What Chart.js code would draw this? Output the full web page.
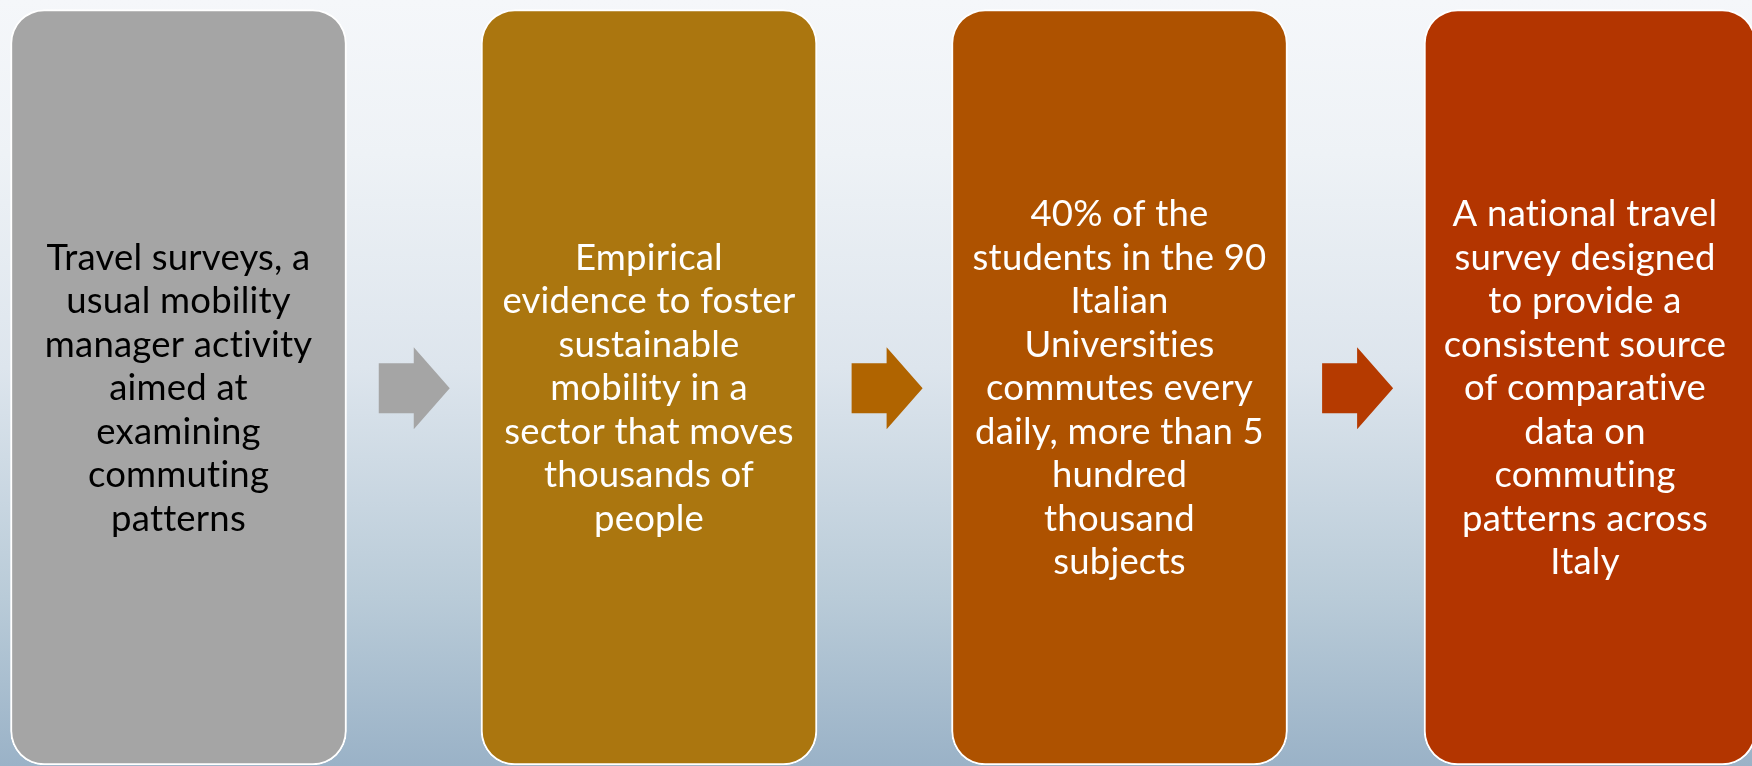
<!DOCTYPE html>
<html>
<head>
<meta charset="utf-8">
<script src="https://cdn.jsdelivr.net/npm/chart.js@4.4.1/dist/chart.umd.min.js"></script>
<style>
  html, body { margin: 0; padding: 0; }
  body {
    width: 1752px; height: 766px; overflow: hidden;
    background: linear-gradient(180deg, #f5f7fa 0%, #eef2f6 20%, #dde5ed 48%, #b9cbd8 78%, #9ab2c7 100%);
  }
  #wrap { position: relative; width: 1752px; height: 766px; }
</style>
</head>
<body>
<div id="wrap"><canvas id="flow"></canvas></div>
<script>
// Passi del processo (una colonna per passo), testo già spezzato per riga.
const stepX = [0, 1, 2, 3];
const stepSpan = [[0, 1], [0, 1], [0, 1], [0, 1]];
const stepText = [
  ["Travel surveys, a", "usual mobility", "manager activity", "aimed at", "examining", "commuting", "patterns"],
  ["Empirical", "evidence to foster", "sustainable", "mobility in a", "sector that moves", "thousands of", "people"],
  ["40% of the", "students in the 90", "Italian", "Universities", "commutes every", "daily, more than 5", "hundred", "thousand", "subjects"],
  ["A national travel", "survey designed", "to provide a", "consistent source", "of comparative", "data on", "commuting", "patterns across", "Italy"],
];
// frecce tra un passo e il successivo
const arrowX = [0.5, 1.505, 2.505];

const C = {
  box: ["#a5a5a5", "#ab760f", "#ae5200", "#b33500"],
  arrow: ["#a5a5a5", "#b06400", "#b53a00"],
  text: ["#000000", "#ffffff", "#ffffff", "#ffffff"],
  edge: "#ffffff",
};
const FONT = '"Lato", "Open Sans", sans-serif';
const LINE_H = 43.5;

const arrows = {
  id: "arrows",
  afterDatasetsDraw(chart) {
    const { ctx, scales: { x, y } } = chart;
    const cy = y.getPixelForValue(0.5) + 1;
    arrowX.forEach((v, i) => {
      const cx = x.getPixelForValue(v);
      ctx.save();
      ctx.fillStyle = C.arrow[i];
      ctx.beginPath();
      ctx.moveTo(cx - 35, cy - 25);
      ctx.lineTo(cx, cy - 25);
      ctx.lineTo(cx, cy - 41);
      ctx.lineTo(cx + 36, cy);
      ctx.lineTo(cx, cy + 41);
      ctx.lineTo(cx, cy + 25);
      ctx.lineTo(cx - 35, cy + 25);
      ctx.closePath();
      ctx.fill();
      ctx.restore();
    });
  },
};

const labels = {
  id: "labels",
  afterDatasetsDraw(chart) {
    const { ctx } = chart;
    const bars = chart.getDatasetMeta(0).data.concat(chart.getDatasetMeta(1).data);
    ctx.save();
    ctx.letterSpacing = "0.2px"; // niente legature "ti"
    // taglia il font sulla riga più larga misurata nell'originale
    ctx.font = `36px ${FONT}`;
    const w = ctx.measureText("sector that moves").width;
    const size = Math.round(36 * 290 / w * 10) / 10;
    ctx.font = `${size}px ${FONT}`;
    ctx.textAlign = "center";
    ctx.textBaseline = "middle";
    bars.forEach((bar, i) => {
      const lines = stepText[i];
      const cx = i === 3 ? bar.x - 5 : bar.x;
      const cy = (bar.y + bar.base) / 2 + 1;
      const top = cy - (lines.length - 1) * LINE_H / 2;
      ctx.fillStyle = C.text[i];
      lines.forEach((s, k) => ctx.fillText(s, cx, top + k * LINE_H));
    });
    ctx.restore();
  },
};

const pts = stepX.map((x, i) => ({ x, y: stepSpan[i] }));
const boxStyle = { borderColor: C.edge, borderWidth: 2, borderSkipped: false, borderRadius: 34, grouped: false };

new Chart(document.getElementById("flow"), {
  type: "bar",
  data: {
    datasets: [
      { ...boxStyle, data: pts.slice(0, 3), backgroundColor: C.box.slice(0, 3), barThickness: 336 },
      // l'ultimo riquadro è un po' più stretto, tagliato dal bordo della slide
      { ...boxStyle, data: pts.slice(3), backgroundColor: C.box.slice(3), barThickness: 332 },
    ],
  },
  options: {
    responsive: true, maintainAspectRatio: false, animation: false,
    layout: { padding: 0 },
    plugins: { legend: { display: false }, tooltip: { enabled: false } },
    scales: {
      x: { type: "linear", min: -0.3794, max: 3.3443, offset: false, display: false },
      y: { min: -0.0013, max: 1.0126, display: false },
    },
  },
  plugins: [arrows, labels],
});
</script>
</body>
</html>
